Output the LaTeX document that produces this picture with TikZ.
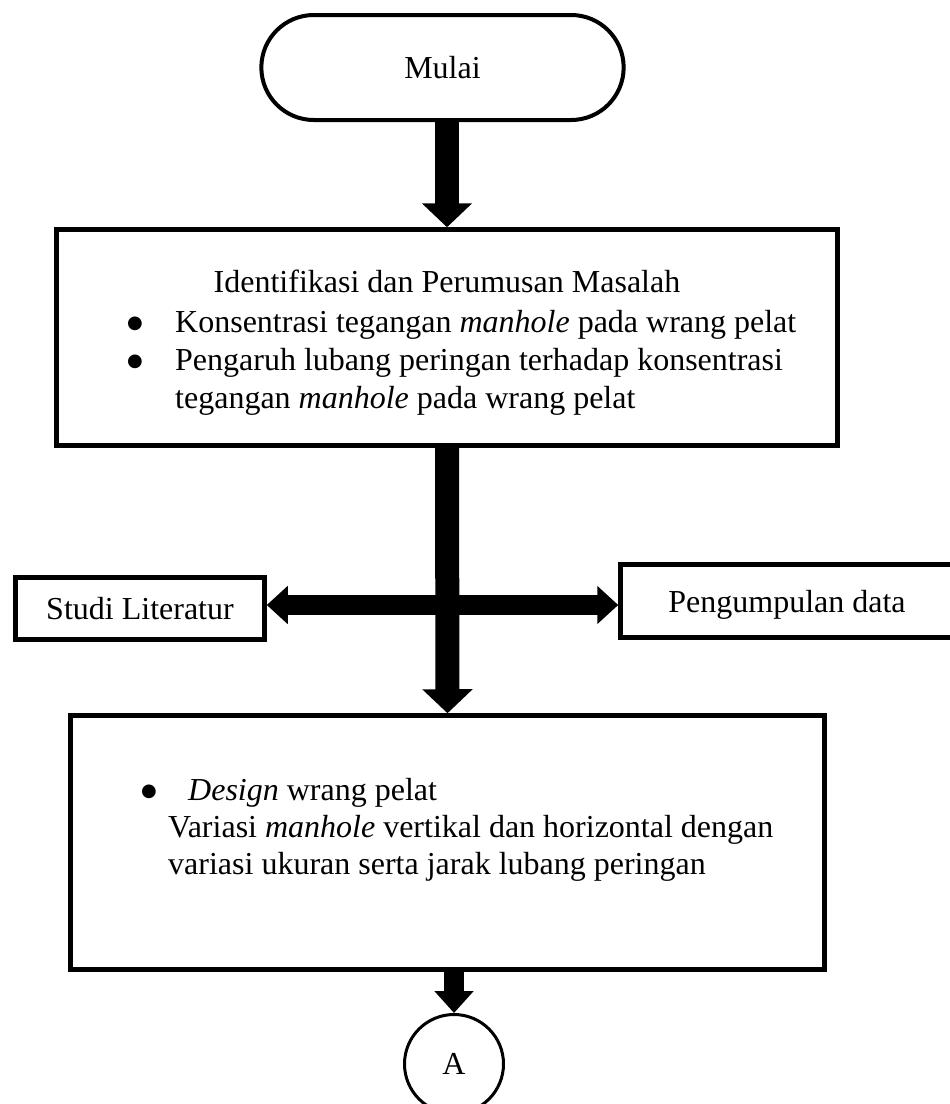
\documentclass[tikz,border=0pt]{standalone}
\usepackage{fontspec}
\setmainfont{Liberation Serif}
\newfontfamily\simbol{DejaVu Sans}
\usetikzlibrary{arrows.meta,shapes.misc}
\newcommand{\butir}{\raisebox{3.5pt}{\simbol\fontsize{18}{18}\selectfont ●}}

\begin{document}
\begin{tikzpicture}
[x = 1pt, y = -1pt,
 every node/.style = {font = \fontsize{32}{38}\selectfont},
 terminal/.style = {draw = black, line width = 4pt, rounded rectangle, minimum width = 369pt, minimum height = 105pt},
 process/.style = {draw = black, line width = 4.5pt, rectangle, text depth = 0pt},
 conn/.style = {draw = black, line width = 3pt, circle, minimum size = 99pt, inner sep = 0pt},
 txt/.style = {inner sep = 0pt},
 bigarrow/.style = {line width = 24pt, -{Triangle[width = 49pt, length = 24pt]}},
 sidearrow/.style = {line width = 20pt, -{Triangle[width = 37pt, length = 21pt]}},
 smallarrow/.style = {line width = 20pt, -{Triangle[width = 38pt, length = 22pt]}}
 ]
\useasboundingbox (0,0) rectangle (950,1104);
\node [terminal] (mulai) at (442.5,67.5) {Mulai};
\node [process, minimum width = 781pt, minimum height = 216pt] (identifikasi) at (447,337.5) {};
\node [txt, anchor = base] (judul) at (447,292) {Identifikasi dan Perumusan Masalah};
\node [txt, anchor = base west] (rumusan) at (127,332) {\begin{tabular}[t]{@{}p{48pt}@{}l@{}}
 \butir & Konsentrasi tegangan \textit{manhole} pada wrang pelat\\
 \butir & Pengaruh lubang peringan terhadap konsentrasi\\
 & tegangan \textit{manhole} pada wrang pelat
 \end{tabular}};
\node [process, minimum width = 249pt, minimum height = 62pt] (studi) at (140,608.5) {Studi Literatur};
\node [process, minimum width = 333pt, minimum height = 73pt] (kumpul) at (787,601) {Pengumpulan data};
\node [process, minimum width = 754pt, minimum height = 254pt] (desain) at (447.5,842.5) {};
\node [txt, anchor = base west, font = \fontsize{32}{37}\selectfont] (variasi) at (141,800) {\begin{tabular}[t]{@{}l@{}}
 \makebox[47pt][l]{\butir}\textit{Design} wrang pelat\\
 \hspace{27pt}Variasi \textit{manhole} vertikal dan horizontal dengan\\
 \hspace{27pt}variasi ukuran serta jarak lubang peringan
 \end{tabular}};
\node [conn] (a) at (454,1064) {A};
% panah
\draw [bigarrow] (mulai.south -| identifikasi.north) -- (identifikasi.north);
\draw [bigarrow] (identifikasi.south) -- (desain.north);
\coordinate (simpang) at (447,605);
\draw [sidearrow] (simpang) -- (simpang -| studi.east);
\draw [sidearrow] (simpang) -- (simpang -| kumpul.west);
\draw [smallarrow] (desain.south -| a.north) -- (a.north);
\end{tikzpicture}
\end{document}
